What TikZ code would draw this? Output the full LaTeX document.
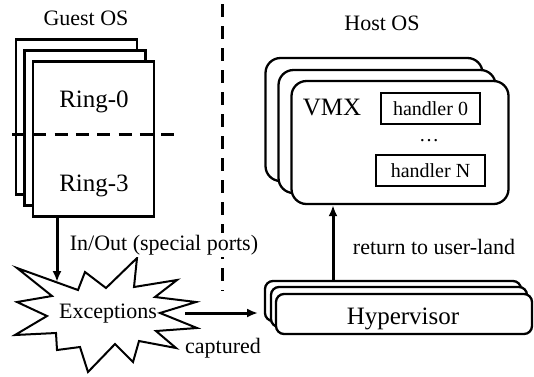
\documentclass[tikz,border=0pt]{standalone}
\usepackage{fontspec}
\setmainfont{Liberation Serif}
\usetikzlibrary{arrows.meta}
\begin{document}
\begin{tikzpicture}[x=1pt,y=-1pt,
  guest/.style={draw, fill=white, line width=2.8pt, minimum width=121pt, minimum height=155pt, inner sep=0pt},
  vmxbox/.style={draw, fill=white, line width=2.3pt, rounded corners=15pt, minimum width=217pt, minimum height=123pt, inner sep=0pt},
  hypbox/.style={draw, fill=white, line width=2.3pt, rounded corners=8pt, minimum width=256pt, minimum height=40pt, inner sep=0pt},
  handler/.style={draw, fill=white, line width=1.8pt, inner sep=0pt, minimum height=31pt, font=\fontsize{20}{24}\selectfont},
  lbl/.style={font=\fontsize{22}{26}\selectfont, inner sep=0pt},
  big/.style={font=\fontsize{25}{30}\selectfont, inner sep=0pt},
  arr/.style={line width=3pt, -{Latex[length=11pt,width=9pt]}},
  sep/.style={line width=3pt, dash pattern=on 13pt off 9pt},
]
\useasboundingbox (0,0) rectangle (534,376);

% vertical separator between guest and host
\coordinate (septop) at (222,4);
\coordinate (sepbot) at (222,291);
\draw[sep] (septop) -- (sepbot);

% guest OS: stack of three pages
\node[guest] (g1) at (76.5,117) {};
\node[guest] (g2) at (85,128) {};
\node[guest] (g3) at (93.5,139) {};
\coordinate (ringL) at (12,134);
\coordinate (ringR) at (174,134);
\draw[line width=3pt, dash pattern=on 13pt off 8.3pt] (ringL) -- (ringR);
\node[big, anchor=base] (r0) at (94,107) {Ring-0};
\node[big, anchor=base] (r3) at (94,191) {Ring-3};
\node[lbl, anchor=base] (guestlbl) at (86,25) {Guest OS};

% host OS: stack of VMX processes
\node[lbl, anchor=base] (hostlbl) at (382,30.5) {Host OS};
\node[vmxbox] (v1) at (374,119.5) {};
\node[vmxbox] (v2) at (387,131.5) {};
\node[vmxbox] (v3) at (400,142.5) {};
\node[big, anchor=base] (vmxlbl) at (332,115) {VMX};
\node[handler, minimum width=99pt] (h0) at (430.5,108.5) {handler 0};
\node[handler, minimum width=109pt] (hn) at (430.5,170.5) {handler N};
\node[font=\fontsize{20}{24}\selectfont, inner sep=0pt, anchor=base] (dots) at (429,141) {…};

% hypervisor stack
\node[hypbox] (hv1) at (393,301) {};
\node[hypbox] (hv2) at (399,307) {};
\node[hypbox] (hv3) at (404,314) {};
\node[big, anchor=base] (hvlbl) at (403,324) {Hypervisor};

% exception burst
\path[draw, fill=white, line width=2pt, line join=miter]
  (17,268) -- (78,290) -- (85,272) -- (106,288) -- (137,258) -- (134,287)
  -- (177,280) -- (155,297) -- (196,302) -- (160,313) -- (197,328)
  -- (156,331) -- (176,348) -- (139,341) -- (133,362) -- (115,344)
  -- (88,372) -- (80,347) -- (57,350) -- (56,333) -- (15,335)
  -- (47,316) -- (17,302) -- (52,296) -- cycle;
\node[lbl, anchor=base] (exc) at (108,318) {Exceptions};

% connectors
\coordinate (inout) at (57,282);
\draw[arr] (g3.south -| inout) -- (inout);
\node[lbl, anchor=base, fill=white, inner ysep=2pt, inner xsep=1pt] (inoutlbl) at (164,250) {In/Out (special ports)};

\coordinate (capfrom) at (185,313);
\coordinate (capto) at (258,313);
\draw[arr] (capfrom) -- (capto);
\node[lbl, anchor=base] (caplbl) at (223,353) {captured};

\coordinate (retfoot) at (333,281);
\draw[arr] (retfoot) -- (retfoot |- v3.south);
\node[lbl, anchor=base] (retlbl) at (434,254) {return to user-land};
\end{tikzpicture}
\end{document}
